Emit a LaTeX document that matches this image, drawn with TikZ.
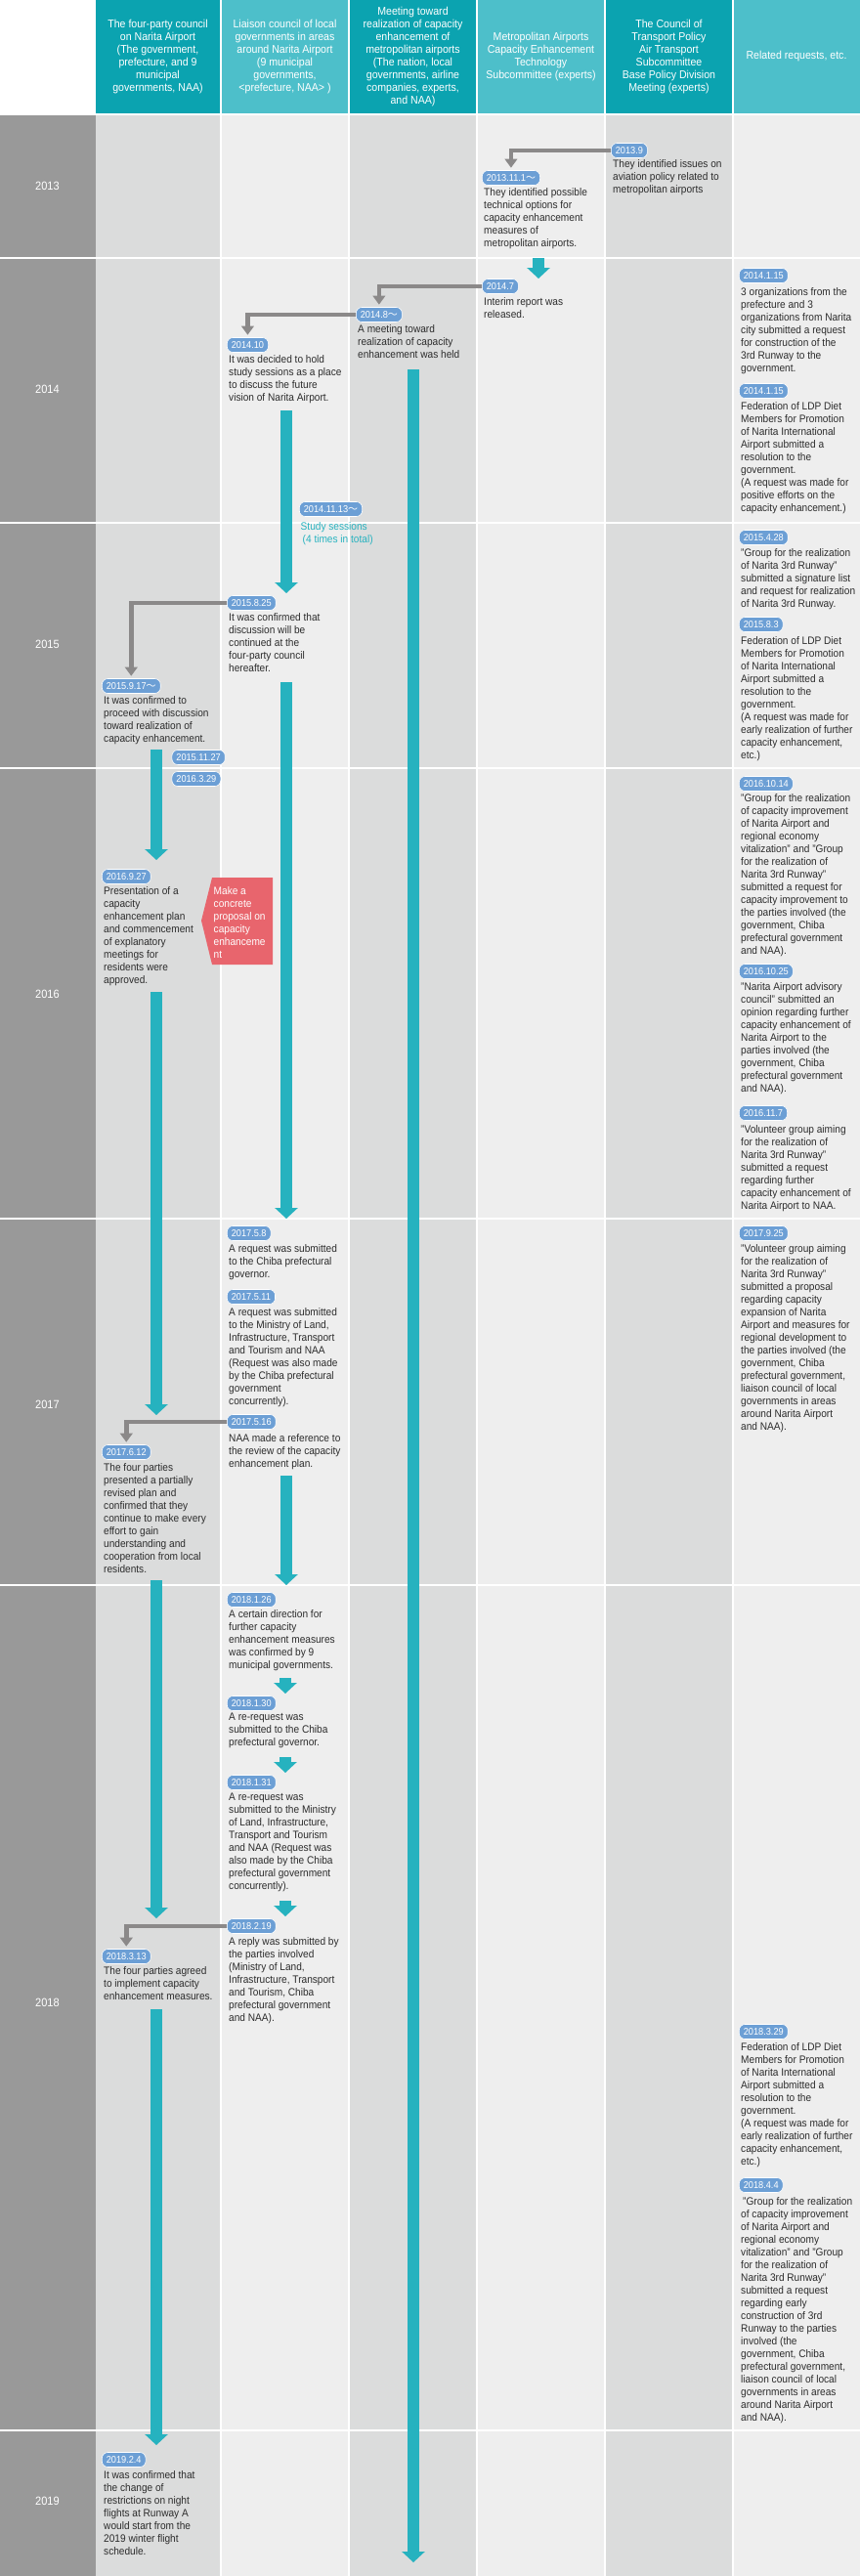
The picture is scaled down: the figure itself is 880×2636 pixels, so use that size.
\documentclass[tikz,border=0pt]{standalone}
\usepackage{fontspec}
\setmainfont{Liberation Sans}[FakeStretch=0.92]
\newfontfamily\cjkfont{Noto Sans CJK JP}
\usetikzlibrary{arrows.meta}
\definecolor{headdark}{HTML}{0BA3B0}
\definecolor{headlight}{HTML}{4DBFCA}
\definecolor{coldark}{HTML}{DBDCDC}
\definecolor{collight}{HTML}{EEEEEE}
\definecolor{yeargray}{HTML}{999999}
\definecolor{tagblue}{HTML}{6C9FD5}
\definecolor{flowteal}{HTML}{26B2BF}
\definecolor{linkgray}{HTML}{8B8989}
\definecolor{calloutred}{HTML}{E8656D}
\definecolor{txt}{HTML}{2B2B2B}
\newcommand{\wave}{{\cjkfont 〜}}
% #1 name, #2 x, #3 tag y, #4 date, #5 first line y, #6 text
\newcommand{\ev}[6]{%
  \node[tagbox] (t#1) at (#2,#3) {#4};
  \node[txtbox] (x#1) at ({#2+2},{#5-5}) {#6};}
\begin{document}
\begin{tikzpicture}[x=1pt,y=-1pt,
  tagbox/.style={anchor=west, fill=tagblue, draw=white, line width=0.6pt, rounded corners=6pt, text=white, font=\fontsize{10}{10}\selectfont, inner xsep=4.5pt, inner ysep=0pt, minimum height=15pt},
  txtbox/.style={anchor=north west, align=left, inner sep=0pt, text=txt, font=\fontsize{11}{13}\selectfont},
  headtxt/.style={align=center, inner sep=0pt, text=white, font=\fontsize{11.5}{13}\selectfont},
  yeartxt/.style={text=white, font=\fontsize{12}{14}\selectfont, inner sep=0pt},
  flow/.style={draw=flowteal, line width=12pt, -{Triangle[width=23pt,length=11pt]}},
  link/.style={draw=linkgray, line width=4.5pt, -{Triangle[width=12.5pt,length=9pt]}, shorten >=2.5pt}
]
\useasboundingbox (0,0) rectangle (880,2636);
\fill[white] (0,0) rectangle (880,2636);
% header cells
\fill[headdark]  (97.5,0) rectangle (225,116.5);
\fill[headlight] (227,0) rectangle (356,116.5);
\fill[headdark]  (358,0) rectangle (487,116.5);
\fill[headlight] (489,0) rectangle (618,116.5);
\fill[headdark]  (620,0) rectangle (749,116.5);
\fill[headlight] (751,0) rectangle (880,116.5);
% body columns
\fill[yeargray] (0,118) rectangle (97.5,2636);
\fill[coldark]  (97.5,118) rectangle (225,2636);
\fill[collight] (227,118) rectangle (356,2636);
\fill[coldark]  (358,118) rectangle (487,2636);
\fill[collight] (489,118) rectangle (618,2636);
\fill[coldark]  (620,118) rectangle (749,2636);
\fill[collight] (751,118) rectangle (880,2636);
\foreach \yy in {264,535,786,1247,1622,2487}
  \draw[white,line width=1.5pt] (0,\yy) -- (880,\yy);
% header texts
\node[headtxt] (h1) at (161.5,58) {The four-party council\\on Narita Airport\\(The government,\\prefecture, and 9\\municipal\\governments, NAA)};
\node[headtxt] (h2) at (291.5,58) {Liaison council of local\\governments in areas\\around Narita Airport\\(9 municipal\\governments,\\<prefecture, NAA> )};
\node[headtxt] (h3) at (422.5,58) {Meeting toward\\realization of capacity\\enhancement of\\metropolitan airports\\(The nation, local\\governments, airline\\companies, experts,\\and NAA)};
\node[headtxt] (h4) at (553.5,58) {Metropolitan Airports\\Capacity Enhancement\\Technology\\Subcommittee (experts)};
\node[headtxt] (h5) at (684.5,58) {The Council of\\Transport Policy\\Air Transport\\Subcommittee\\Base Policy Division\\Meeting (experts)};
\node[headtxt] (h6) at (815,58) {Related requests, etc.};
% years
\node[yeartxt] (y2013) at (48.5,190) {2013};
\node[yeartxt] (y2014) at (48.5,398) {2014};
\node[yeartxt] (y2015) at (48.5,659) {2015};
\node[yeartxt] (y2016) at (48.5,1017) {2016};
\node[yeartxt] (y2017) at (48.5,1437) {2017};
\node[yeartxt] (y2018) at (48.5,2049) {2018};
\node[yeartxt] (y2019) at (48.5,2559) {2019};
% red callout
\fill[calloutred] (217,898) -- (279,898) -- (279,987) -- (217,987) -- (206,942) -- cycle;
\node[txtbox, text=white] (callout) at (218.5,907) {Make a\\concrete\\proposal on\\capacity\\enhanceme\\nt};
% events: column 5 and 4
\ev{A}{625}{154}{2013.9}{168}{They identified issues on\\aviation policy related to\\metropolitan airports}
\ev{B}{493}{182}{2013.11.1\wave}{197}{They identified possible\\technical options for\\capacity enhancement\\measures of\\metropolitan airports.}
\ev{C}{493}{293}{2014.7}{309}{Interim report was\\released.}
% column 3
\ev{D}{364}{322}{2014.8\wave}{337}{A meeting toward\\realization of capacity\\enhancement was held}
% column 2
\ev{E}{232}{353}{2014.10}{368}{It was decided to hold\\study sessions as a place\\to discuss the future\\vision of Narita Airport.}
\node[tagbox] (tF) at (306,521) {2014.11.13\wave};
\node[txtbox, text=flowteal] (xF) at (307.5,534) {Study sessions\\\hspace{2pt}(4 times in total)};
\ev{G}{232}{617}{2015.8.25}{632}{It was confirmed that\\discussion will be\\continued at the\\four-party council\\hereafter.}
\ev{H}{232}{1262}{2017.5.8}{1278}{A request was submitted\\to the Chiba prefectural\\governor.}
\ev{I}{232}{1327}{2017.5.11}{1343}{A request was submitted\\to the Ministry of Land,\\Infrastructure, Transport\\and Tourism and NAA\\(Request was also made\\by the Chiba prefectural\\government\\concurrently).}
\ev{J}{232}{1455}{2017.5.16}{1472}{NAA made a reference to\\the review of the capacity\\enhancement plan.}
\ev{K}{232}{1637}{2018.1.26}{1652}{A certain direction for\\further capacity\\enhancement measures\\was confirmed by 9\\municipal governments.}
\ev{L}{232}{1743}{2018.1.30}{1758}{A re-request was\\submitted to the Chiba\\prefectural governor.}
\ev{M}{232}{1824}{2018.1.31}{1840}{A re-request was\\submitted to the Ministry\\of Land, Infrastructure,\\Transport and Tourism\\and NAA (Request was\\also made by the Chiba\\prefectural government\\concurrently).}
\ev{N}{232}{1971}{2018.2.19}{1987}{A reply was submitted by\\the parties involved\\(Ministry of Land,\\Infrastructure, Transport\\and Tourism, Chiba\\prefectural government\\and NAA).}
% column 1
\ev{O}{104}{702}{2015.9.17\wave}{717}{It was confirmed to\\proceed with discussion\\toward realization of\\capacity enhancement.}
\node[tagbox] (tP) at (175.6,775) {2015.11.27};
\node[tagbox] (tQ) at (175.6,797) {2016.3.29};
\ev{R}{104}{897}{2016.9.27}{912}{Presentation of a\\capacity\\enhancement plan\\and commencement\\of explanatory\\meetings for\\residents were\\approved.}
\ev{S}{104}{1486}{2017.6.12}{1502}{The four parties\\presented a partially\\revised plan and\\confirmed that they\\continue to make every\\effort to gain\\understanding and\\cooperation from local\\residents.}
\ev{T}{104}{2002}{2018.3.13}{2017}{The four parties agreed\\to implement capacity\\enhancement measures.}
\ev{U}{104}{2517}{2019.2.4}{2533}{It was confirmed that\\the change of\\restrictions on night\\flights at Runway A\\would start from the\\2019 winter flight\\schedule.}
% related column
\ev{r1}{756}{282}{2014.1.15}{299}{3 organizations from the\\prefecture and 3\\organizations from Narita\\city submitted a request\\for construction of the\\3rd Runway to the\\government.}
\ev{r2}{756}{400}{2014.1.15}{416}{Federation of LDP Diet\\Members for Promotion\\of Narita International\\Airport submitted a\\resolution to the\\government.\\(A request was made for\\positive efforts on the\\capacity enhancement.)}
\ev{r3}{756}{550}{2015.4.28}{566}{"Group for the realization\\of Narita 3rd Runway"\\submitted a signature list\\and request for realization\\of Narita 3rd Runway.}
\ev{r4}{756}{639}{2015.8.3}{656}{Federation of LDP Diet\\Members for Promotion\\of Narita International\\Airport submitted a\\resolution to the\\government.\\(A request was made for\\early realization of further\\capacity enhancement,\\etc.)}
\ev{r5}{756}{802}{2016.10.14}{817}{"Group for the realization\\of capacity improvement\\of Narita Airport and\\regional economy\\vitalization" and "Group\\for the realization of\\Narita 3rd Runway"\\submitted a request for\\capacity improvement to\\the parties involved (the\\government, Chiba\\prefectural government\\and NAA).}
\ev{r6}{756}{994}{2016.10.25}{1010}{"Narita Airport advisory\\council" submitted an\\opinion regarding further\\capacity enhancement of\\Narita Airport to the\\parties involved (the\\government, Chiba\\prefectural government\\and NAA).}
\ev{r7}{756}{1139}{2016.11.7}{1156}{"Volunteer group aiming\\for the realization of\\Narita 3rd Runway"\\submitted a request\\regarding further\\capacity enhancement of\\Narita Airport to NAA.}
\ev{r8}{756}{1262}{2017.9.25}{1278}{"Volunteer group aiming\\for the realization of\\Narita 3rd Runway"\\submitted a proposal\\regarding capacity\\expansion of Narita\\Airport and measures for\\regional development to\\the parties involved (the\\government, Chiba\\prefectural government,\\liaison council of local\\governments in areas\\around Narita Airport\\and NAA).}
\ev{r9}{756}{2079}{2018.3.29}{2095}{Federation of LDP Diet\\Members for Promotion\\of Narita International\\Airport submitted a\\resolution to the\\government.\\(A request was made for\\early realization of further\\capacity enhancement,\\etc.)}
\ev{r10}{756}{2236}{2018.4.4}{2253}{\hspace{2pt}"Group for the realization\\of capacity improvement\\of Narita Airport and\\regional economy\\vitalization" and "Group\\for the realization of\\Narita 3rd Runway"\\submitted a request\\regarding early\\construction of 3rd\\Runway to the parties\\involved (the\\government, Chiba\\prefectural government,\\liaison council of local\\governments in areas\\around Narita Airport\\and NAA).}
% gray links
\draw[link] (tA.west) -| (tB.north);
\draw[link] (tC.west) -| (tD.north);
\draw[link] (tD.west) -| (tE.north);
\draw[link] (tG.west) -| (tO.north);
\draw[link] (tJ.west) -| (tS.north);
\draw[link] (tN.west) -| (tT.north);
% teal flows
\coordinate (f4a) at (551,264);  \coordinate (f4b) at (551,285);
\coordinate (f3a) at (423,378);  \coordinate (f3b) at (423,2622);
\coordinate (f2a) at (293,420);  \coordinate (f2b) at (293,607);
\coordinate (f2c) at (293,698);  \coordinate (f2d) at (293,1247);
\coordinate (f2e) at (293,1510); \coordinate (f2f) at (293,1622);
\coordinate (f2g) at (292,1717); \coordinate (f2h) at (292,1733);
\coordinate (f2i) at (292,1798); \coordinate (f2j) at (292,1814);
\coordinate (f2k) at (292,1945); \coordinate (f2l) at (292,1961);
\coordinate (f1a) at (160,767);  \coordinate (f1b) at (160,880);
\coordinate (f1c) at (160,1015); \coordinate (f1d) at (160,1448);
\coordinate (f1e) at (160,1617); \coordinate (f1f) at (160,1963);
\coordinate (f1g) at (160,2056); \coordinate (f1h) at (160,2502);
\draw[flow] (f4a) -- (f4b);
\draw[flow] (f3a) -- (f3b);
\draw[flow] (f2a) -- (f2b);
\draw[flow] (f2c) -- (f2d);
\draw[flow] (f2e) -- (f2f);
\draw[flow] (f2g) -- (f2h);
\draw[flow] (f2i) -- (f2j);
\draw[flow] (f2k) -- (f2l);
\draw[flow] (f1a) -- (f1b);
\draw[flow] (f1c) -- (f1d);
\draw[flow] (f1e) -- (f1f);
\draw[flow] (f1g) -- (f1h);
\end{tikzpicture}
\end{document}
